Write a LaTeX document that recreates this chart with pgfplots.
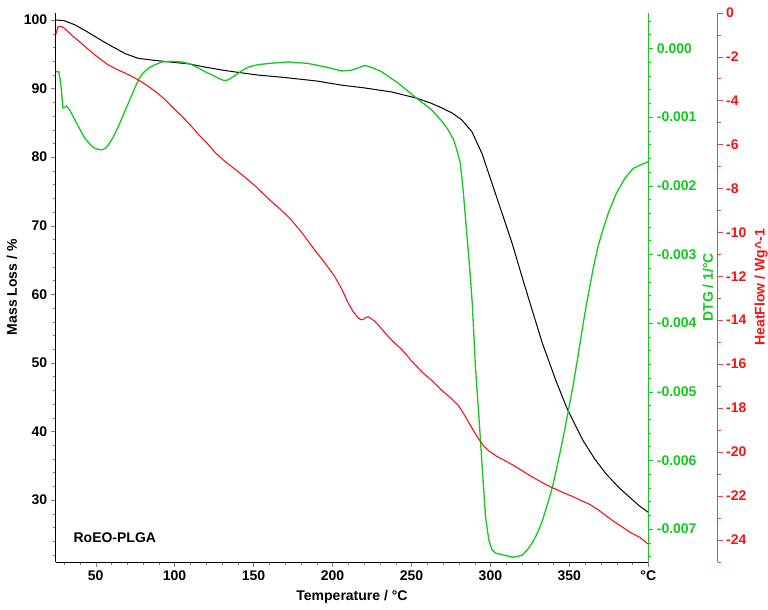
\documentclass[border=0pt]{standalone}
\usepackage{pgfplots}
\pgfplotsset{compat=1.18}
\usepackage{fontspec}
\setmainfont{Liberation Sans}
\definecolor{dtggreen}{RGB}{20,200,30}
\definecolor{hfred}{RGB}{245,20,20}
\definecolor{hfaxis}{RGB}{235,70,70}
\pgfplotsset{
  base/.style={
    scale only axis, height=549pt,
    tick align=outside,
    major tick length=5pt, minor tick length=3pt,
    ticklabel style={font=\fontsize{14}{16}\selectfont\bfseries},
    label style={font=\fontsize{14}{16}\selectfont\bfseries},
    /pgf/number format/assume math mode=true,
    scaled y ticks=false,
  }
}
\begin{document}
\begin{tikzpicture}
% ---------------- Mass loss (left axis) ----------------
\begin{axis}[base, name=main,
  width=592.6pt,
  xmin=24.7, xmax=400, ymin=21, ymax=101.06,
  axis x line*=bottom, axis y line*=left,
  xtick={50,100,150,200,250,300,350,400},
  xticklabels={50,100,150,200,250,300,350,°C},
  minor xtick={30,40,...,390},
  ytick={30,40,...,100},
  minor ytick={22,24,...,100},
  xlabel={Temperature /  °C},
  ylabel={Mass Loss / \%},
  xlabel style={at={(axis description cs:0.5,0)}, anchor=base, yshift=-38.3pt},
  ylabel style={at={(axis description cs:0,0.5)}, anchor=center, yshift=43.7pt},
]
\addplot[black, line width=1pt] coordinates {
(24.7,100.0) (30,99.9) (36.8,99.3) (43,98.5) (49.5,97.6) (56,96.7) (62.3,95.9)
(68.6,95.1) (77,94.4) (87.7,94.1) (100,93.8) (109,93.6) (120,93.1) (130,92.7)
(141.9,92.3) (151.5,92.0) (170,91.6) (190,91.1) (205.6,90.5) (220,90.1)
(237.4,89.5) (253.3,88.6) (262,87.9) (269,87.2) (276,86.4) (282,85.4)
(288.3,83.7) (294.7,80.5) (301,76.2) (307.4,71.8) (313.8,67.4) (320.1,62.5)
(325.5,58.4) (333,52.8) (341.5,47.4) (349,43.1) (358.6,38.7) (366,36.0)
(373.3,33.8) (381,31.9) (388.2,30.4) (394,29.2) (400,28.2)
};
\node[anchor=west, font=\fontsize{14}{16}\selectfont\bfseries] at (axis cs:33.8,24.5) {RoEO-PLGA};
\end{axis}
% ---------------- DTG (green right axis) ----------------
\begin{axis}[base,
  width=592.6pt,
  xmin=24.7, xmax=400, ymin=-0.007476, ymax=0.000518,
  hide x axis, axis y line*=right,
  y axis line style={dtggreen, line width=0.8pt},
  every y tick/.style={dtggreen},
  ytick={-0.007,-0.006,-0.005,-0.004,-0.003,-0.002,-0.001,0},
  yticklabels={-0.007,-0.006,-0.005,-0.004,-0.003,-0.002,-0.001,0.000},
  minor ytick={-0.0074,-0.0072,-0.0070,-0.0068,-0.0066,-0.0064,-0.0062,-0.0060,-0.0058,-0.0056,-0.0054,-0.0052,-0.0050,-0.0048,-0.0046,-0.0044,-0.0042,-0.0040,-0.0038,-0.0036,-0.0034,-0.0032,-0.0030,-0.0028,-0.0026,-0.0024,-0.0022,-0.0020,-0.0018,-0.0016,-0.0014,-0.0012,-0.0010,-0.0008,-0.0006,-0.0004,-0.0002,0,0.0002,0.0004},
  yticklabel style={dtggreen},
  ylabel={DTG / 1/°C},
  ylabel style={at={(axis description cs:1,0.5)}, anchor=center, yshift=-59.7pt, dtggreen},
]
\addplot[dtggreen, line width=1.3pt] coordinates {
(24.7,-0.00034) (26.6,-0.00034) (27.5,-0.00045) (28.3,-0.00061) (29.3,-0.00087)
(30.5,-0.00086) (31.5,-0.00084) (33.6,-0.00090) (36.8,-0.00104) (40,-0.00118)
(43.2,-0.00131) (46.5,-0.00140) (49.5,-0.00146) (53.8,-0.00148) (56,-0.00146)
(58,-0.00141) (61,-0.00130) (64.4,-0.00114) (67.5,-0.00097) (70.7,-0.00080)
(74,-0.00062) (77.1,-0.00046) (80,-0.00036) (83.5,-0.00029) (87.5,-0.00024)
(92,-0.00020) (98,-0.00019) (104.8,-0.00020) (110,-0.00023) (115.3,-0.00029)
(120,-0.00035) (123.9,-0.00039) (128,-0.00044) (131.2,-0.00047) (134,-0.00046)
(138.7,-0.00039) (143,-0.00032) (147.2,-0.00027) (152.5,-0.00024) (160,-0.00022)
(171.6,-0.00020) (184.4,-0.00022) (197.1,-0.00028) (205.6,-0.00033) (212,-0.00032)
(217,-0.00028) (220.4,-0.00025) (225,-0.00028) (231,-0.00034) (236,-0.00042)
(241.7,-0.00051) (247,-0.00061) (253.3,-0.00073) (258,-0.00081) (262.9,-0.00090)
(266,-0.00098) (269.2,-0.00106) (273,-0.00118) (276.7,-0.00133) (279,-0.00150)
(280.9,-0.00167) (282,-0.00190) (283.1,-0.00216) (285.2,-0.00274) (287.3,-0.00332)
(288.6,-0.00375) (290.5,-0.00463) (292.7,-0.00536) (294.8,-0.00609) (296.9,-0.00682)
(299,-0.00716) (301,-0.00730) (303.2,-0.00735) (308.6,-0.00738) (313.9,-0.00741)
(317,-0.00740) (320.2,-0.00738) (323.5,-0.00730) (326.6,-0.00720) (330,-0.00705)
(333,-0.00687) (336,-0.00665) (339.4,-0.00638) (342.5,-0.00606) (345.8,-0.00570)
(349,-0.00532) (352.2,-0.00493) (355,-0.00455) (357.4,-0.00420) (360.6,-0.00376)
(364.9,-0.00323) (368,-0.00290) (371.3,-0.00264) (375,-0.00238) (379.8,-0.00211)
(385,-0.00190) (390.4,-0.00175) (395,-0.00170) (400,-0.00165)
};
\end{axis}
% ---------------- Heat flow (red outer right axis) ----------------
\begin{axis}[base,
  width=662pt,
  xmin=24.7, xmax=444, ymin=-25, ymax=0,
  hide x axis, axis y line*=right,
  y axis line style={hfaxis, line width=0.6pt},
  every y tick/.style={hfaxis},
  ytick={-24,-22,...,0},
  minor ytick={-25,-24,...,0},
  yticklabel style={hfred},
  ylabel={HeatFlow / Wg\textasciicircum-1},
  ylabel style={at={(axis description cs:1,0.5)}, anchor=center, yshift=-43.3pt, hfred},
]
\addplot[hfred, line width=1.1pt] coordinates {
(24.7,-1.01) (26.2,-0.64) (28.3,-0.62) (30,-0.70) (32.5,-0.86) (36,-1.10) (41,-1.39)
(45,-1.65) (49.5,-1.92) (54,-2.17) (58,-2.38) (62,-2.53) (66.5,-2.68) (71,-2.83)
(75,-2.98) (79,-3.15) (83.5,-3.36) (89,-3.65) (94.1,-3.97) (99,-4.33) (104.8,-4.73)
(110,-5.12) (115.3,-5.56) (121,-5.98) (126,-6.39) (132,-6.78) (138.7,-7.15)
(145,-7.52) (151.4,-7.91) (160,-8.51) (167,-8.95) (173.7,-9.42) (181,-10.05)
(188.6,-10.79) (195,-11.38) (201.3,-12.0) (206,-12.6) (209.9,-13.21) (213,-13.60)
(216.2,-13.89) (218,-13.98) (219.4,-13.97) (221,-13.88) (222.6,-13.85) (224.5,-13.93)
(226.8,-14.05) (230,-14.30) (233.2,-14.57) (238,-14.95) (243.8,-15.33) (250,-15.85)
(256.5,-16.35) (263,-16.75) (269.3,-17.2) (275,-17.55) (279.9,-17.9) (283,-18.25)
(286.3,-18.66) (289.5,-19.05) (292.7,-19.42) (296,-19.75) (299,-19.95) (304,-20.2)
(309.6,-20.41) (315,-20.63) (320.2,-20.86) (325.5,-21.1) (330.9,-21.32) (336,-21.52)
(341.5,-21.7) (347,-21.88) (352.1,-22.03) (357,-22.2) (362.7,-22.38) (368,-22.62)
(373.3,-22.91) (378.5,-23.18) (383.9,-23.44) (389,-23.68) (394.6,-23.89) (400,-24.2)
};
\end{axis}
\pgfresetboundingbox
\path ([xshift=-55.7pt,yshift=-48.3pt]main.south west) rectangle ([xshift=119.7pt,yshift=12.7pt]main.north east);
\end{tikzpicture}
\end{document}
